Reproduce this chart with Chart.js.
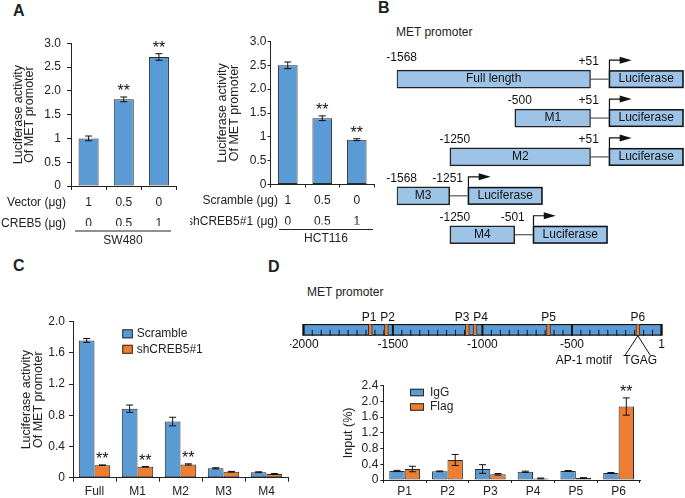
<!DOCTYPE html>
<html>
<head>
<meta charset="utf-8">
<script src="https://cdn.jsdelivr.net/npm/chart.js@4.4.1/dist/chart.umd.min.js"></script>
<style>
body{margin:0;background:#fff;font-family:"Liberation Sans",Arial,sans-serif;color:#222}
#page{position:relative;width:685px;height:498px;overflow:hidden}
canvas{position:absolute}
.lab{position:absolute;font-weight:bold;font-size:16px;line-height:16px}
.cap{position:absolute;font-size:12px;line-height:12px;white-space:nowrap}
</style>
</head>
<body>
<div id="page">
<div class="lab" style="left:13px;top:3px">A</div>
<div class="lab" style="left:378px;top:0px">B</div>
<div class="lab" style="left:13px;top:258px">C</div>
<div class="lab" style="left:268px;top:259px">D</div>
<div class="cap" style="left:396px;top:26px">MET promoter</div>
<div class="cap" style="left:307px;top:286px">MET promoter</div>
<canvas id="chartA1" width="190" height="220" style="left:0;top:30px"></canvas>
<canvas id="chartA2" width="195" height="220" style="left:190px;top:30px"></canvas>
<canvas id="chartB" width="305" height="216" style="left:380px;top:40px"></canvas>
<canvas id="chartC" width="295" height="243" style="left:0;top:255px"></canvas>
<canvas id="chartDmap" width="395" height="90" style="left:290px;top:280px"></canvas>
<canvas id="chartD" width="395" height="123" style="left:290px;top:375px"></canvas>
</div>
<script>
/* ---------------- data ---------------- */
// A left: SW480
var vectorUg = ['1', '0.5', '0'];
var creb5Ug = ['0', '0.5', '1'];
var sw480Values = [1.00, 1.82, 2.71];
var sw480Errors = [0.05, 0.05, 0.07];
var sw480Sig = ['', '**', '**'];
// A right: HCT116
var scrambleUg = ['1', '0.5', '0'];
var shCreb5Ug = ['0', '0.5', '1'];
var hct116Values = [2.50, 1.39, 0.94];
var hct116Errors = [0.07, 0.05, 0.02];
var hct116Sig = ['', '**', '**'];
var tickLabelsA = ['0', '0.5', '1', '1.5', '2.0', '2.5', '3.0'];

// B: promoter constructs (bp)
var constructNames = ['Full length', 'M1', 'M2', 'M3', 'M4'];
var constructStart = [-1568, -500, -1250, -1568, -1250];
var constructEnd = [51, 51, 51, -1251, -501];

// C: deletion constructs
var constructCats = ['Full', 'M1', 'M2', 'M3', 'M4'];
var scrambleValues = [1.76, 0.885, 0.72, 0.12, 0.07];
var scrambleErrors = [0.025, 0.047, 0.055, 0.008, 0.006];
var shCreb5Values = [0.16, 0.14, 0.17, 0.077, 0.048];
var shCreb5Errors = [0.004, 0.003, 0.008, 0.004, 0.006];
var shCreb5Sig = ['**', '**', '**', '', ''];
var tickLabelsC = ['0', '0.4', '0.8', '1.2', '1.6', '2.0'];

// D: promoter map + ChIP
var promoterRange = [-2000, 1];
var promoterTicks = [-2000, -1500, -1000, -500, 1];
var motifNames = ['P1', 'P2', 'P3', 'P4', 'P5', 'P6'];
var motifPos = [-1626, -1536, -1084, -1041, -631, -132];
var igGValues = [0.23, 0.22, 0.28, 0.21, 0.23, 0.18];
var igGErrors = [0.015, 0.01, 0.11, 0.015, 0.01, 0.01];
var flagValues = [0.28, 0.51, 0.145, 0.04, 0.05, 1.87];
var flagErrors = [0.07, 0.14, 0.02, 0.01, 0.01, 0.22];
var flagSig = ['', '', '', '', '', '**'];
var tickLabelsD = ['0', '0.4', '0.8', '1.2', '1.6', '2.0', '2.4'];

/* ---------------- setup ---------------- */
var FONT = 'Liberation Sans, Arial, sans-serif';
var BLUE = '#5B9BD5', ORANGE = '#ED7D31', LIGHT = '#9DC3E6', INK = '#222', EDGE = '#2a2a2a';
Chart.defaults.font.family = FONT;
Chart.defaults.font.size = 12;
Chart.defaults.color = INK;

// schematic (not to scale) axis used by panel B
class SchematicScale extends Chart.LinearScale {
	getPixelForValue(value) {
		var b = this.options.breaks, f = this.options.fractions, i = 0;
		while (i < b.length - 2 && value > b[i + 1]) i++;
		var t = (value - b[i]) / (b[i + 1] - b[i]);
		return this.getPixelForDecimal(f[i] + t * (f[i + 1] - f[i]));
	}
}
SchematicScale.id = 'schematic';
SchematicScale.defaults = Chart.LinearScale.defaults;
Chart.register(SchematicScale);

//error bars + significance stars
var errorBarPlugin = {
	id: 'errorBars',
	afterDatasetsDraw: function(chart) {
		var ctx = chart.ctx, ys = chart.scales.y;
		chart.data.datasets.forEach(function(ds, di) {
			if (!ds.errors) return;
			chart.getDatasetMeta(di).data.forEach(function(bar, i) {
				var v = ds.data[i], e = ds.errors[i];
				var top = ys.getPixelForValue(v + e), bot = ys.getPixelForValue(v - e);
				ctx.save();
				ctx.strokeStyle = '#111';
				ctx.lineWidth = 1;
				ctx.beginPath();
				ctx.moveTo(bar.x, top); ctx.lineTo(bar.x, bot);
				ctx.moveTo(bar.x - 3.5, top); ctx.lineTo(bar.x + 3.5, top);
				ctx.moveTo(bar.x - 3.5, bot); ctx.lineTo(bar.x + 3.5, bot);
				ctx.stroke();
				if (ds.sig && ds.sig[i]) {
					ctx.fillStyle = '#111';
					ctx.font = '16px ' + FONT;
					ctx.textAlign = 'center';
					ctx.textBaseline = 'alphabetic';
					ctx.fillText(ds.sig[i], bar.x, top - 1);
				}
				ctx.restore();
			});
		});
	}
};

function rowLabels(o) {
	return {
		id: 'rowLabels',
		afterDraw: function(chart) {
			var ctx = chart.ctx, xs = chart.scales.x;
			var y0 = xs.top + xs.options.grid.tickLength + xs.options.ticks.padding + 10.5;
			ctx.save();
			ctx.font = '12px ' + FONT;
			ctx.fillStyle = INK;
			ctx.textBaseline = 'middle';
			ctx.textAlign = 'right';
			o.rows.forEach(function(r, i) { ctx.fillText(r, o.right, y0 + i * 21); });
			ctx.strokeStyle = INK;
			ctx.lineWidth = 1;
			ctx.beginPath();
			ctx.moveTo(o.line[0], y0 + 28.5); ctx.lineTo(o.line[1], y0 + 28.5);
			ctx.stroke();
			ctx.textAlign = 'center';
			ctx.fillText(o.cell, (o.line[0] + o.line[1]) / 2, y0 + 38);
			ctx.restore();
		}
	};
}

function boxLegend(o) {
	return {
		id: 'boxLegend',
		afterDraw: function(chart) {
			var ctx = chart.ctx;
			ctx.save();
			ctx.font = '12px ' + FONT;
			ctx.textBaseline = 'middle';
			ctx.textAlign = 'left';
			chart.data.datasets.forEach(function(ds, i) {
				var cy = o.y + i * o.gap;
				ctx.fillStyle = ds.backgroundColor;
				ctx.fillRect(o.x, cy - o.h / 2, o.w, o.h);
				ctx.strokeStyle = EDGE;
				ctx.lineWidth = 1;
				ctx.strokeRect(o.x + 0.5, cy - o.h / 2 + 0.5, o.w - 1, o.h - 1);
				ctx.fillStyle = INK;
				ctx.fillText(ds.label, o.x + o.dx, cy);
			});
			ctx.restore();
		}
	};
}

function valueChart(id, c) {
	c.datasets.forEach(function(ds) {
		ds.borderColor = EDGE;
		ds.borderWidth = 1;
		ds.borderSkipped = false;
	});
	return new Chart(document.getElementById(id), {
		type: 'bar',
		data: { labels: c.labels, datasets: c.datasets },
		options: {
			responsive: false,
			animation: false,
			events: [],
			layout: { padding: c.padding },
			datasets: { bar: { categoryPercentage: c.catPct, barPercentage: c.barPct } },
			scales: {
				x: {
					grid: { display: true, drawOnChartArea: false, drawTicks: true, tickLength: c.tickLen, color: INK },
					border: { display: true, color: INK, width: 1 },
					ticks: { color: INK, font: { size: 12, lineHeight: c.xLineHeight }, padding: c.xTickPad, autoSkip: false, maxRotation: 0 },
					afterFit: function(s) { s.height = c.xHeight; }
				},
				y: {
					min: 0, max: c.yMax,
					ticks: { stepSize: c.yStep, color: INK, font: { size: 12 }, padding: c.yTickPad, autoSkip: false,
						callback: function(v, i) { return c.yTickLabels[i]; } },
					grid: { display: true, drawOnChartArea: false, drawTicks: true, tickLength: c.tickLen, color: INK },
					border: { display: true, color: INK, width: 1 },
					title: { display: true, text: c.yTitle, color: INK, font: { size: 12.5, lineHeight: c.titleLh }, padding: { top: c.titlePad, bottom: 0 } },
					afterFit: function(s) { s.width = c.yWidth; }
				}
			},
			plugins: { legend: { display: false }, tooltip: { enabled: false } }
		},
		plugins: [errorBarPlugin].concat(c.plugins || [])
	});
}

/* ---------------- panel A ---------------- */
valueChart('chartA1', {
	labels: vectorUg.map(function(v, i) { return [v, creb5Ug[i]]; }),
	datasets: [{ data: sw480Values, errors: sw480Errors, sig: sw480Sig, backgroundColor: BLUE }],
	padding: { left: 0, top: 12.3, right: 13.5, bottom: 24 },
	catPct: 1, barPct: 0.57, tickLen: 4,
	xLineHeight: '21px', xTickPad: 2, xHeight: 40,
	yMax: 3, yStep: 0.5, yTickLabels: tickLabelsA, yTickPad: 6, yWidth: 71,
	yTitle: ['Luciferase activity', 'Of MET promoter'], titleLh: '11.5px', titlePad: 12.5,
	plugins: [rowLabels({ rows: ['Vector (\u03bcg)', 'CREB5 (\u03bcg)'], right: 66, line: [75, 171], cell: 'SW480' })]
});

valueChart('chartA2', {
	labels: scrambleUg.map(function(v, i) { return [v, shCreb5Ug[i]]; }),
	datasets: [{ data: hct116Values, errors: hct116Errors, sig: hct116Sig, backgroundColor: BLUE }],
	padding: { left: 0, top: 11.5, right: 11, bottom: 25.5 },
	catPct: 1, barPct: 0.57, tickLen: 3,
	xLineHeight: '21px', xTickPad: 3, xHeight: 40,
	yMax: 3, yStep: 0.5, yTickLabels: tickLabelsA, yTickPad: 1, yWidth: 80.5,
	yTitle: ['Luciferase activity', 'Of MET promoter'], titleLh: '11.5px', titlePad: 27,
	plugins: [rowLabels({ rows: ['Scramble (\u03bcg)', 'shCREB5#1 (\u03bcg)'], right: 88, line: [89, 183], cell: 'HCT116' })]
});

/* ---------------- panel B ---------------- */
function fmtBp(v) { return v > 0 ? '+' + v : String(v); }

var constructPlugin = {
	id: 'constructs',
	afterDatasetsDraw: function(chart) {
		var ctx = chart.ctx, xs = chart.scales.x;
		ctx.save();
		ctx.font = '12px ' + FONT;
		ctx.textBaseline = 'middle';
		ctx.textAlign = 'center';
		chart.getDatasetMeta(0).data.forEach(function(bar, i) {
			var x0 = xs.getPixelForValue(constructStart[i]);
			var x1 = xs.getPixelForValue(constructEnd[i]);
			var h = bar.height, top = bar.y - h / 2, lx = x1 + 18, lw = 75;
			ctx.fillStyle = '#111';
			ctx.fillText(constructNames[i], (x0 + x1) / 2, bar.y);
			ctx.fillText(fmtBp(constructStart[i]), x0 + 5, top - (i === 0 ? 12 : 8));
			ctx.fillText(fmtBp(constructEnd[i]), x1 - 2, top - 8);
			// link to reporter
			ctx.strokeStyle = '#333';
			ctx.lineWidth = 1;
			ctx.beginPath(); ctx.moveTo(x1, bar.y); ctx.lineTo(lx, bar.y); ctx.stroke();
			// luciferase box
			ctx.fillStyle = LIGHT;
			ctx.fillRect(lx, top, lw, h);
			ctx.strokeStyle = '#111';
			ctx.lineWidth = 1.5;
			ctx.strokeRect(lx + 0.75, top + 0.75, lw - 1.5, h - 1.5);
			ctx.fillStyle = '#111';
			ctx.fillText('Luciferase', lx + lw / 2, bar.y);
			// transcription start arrow
			ctx.lineWidth = 1.2;
			ctx.beginPath(); ctx.moveTo(lx + 0.75, top); ctx.lineTo(lx + 0.75, top - 10); ctx.lineTo(lx + 12, top - 10); ctx.stroke();
			ctx.beginPath(); ctx.moveTo(lx + 11, top - 13.5); ctx.lineTo(lx + 23, top - 10); ctx.lineTo(lx + 11, top - 6.5); ctx.closePath(); ctx.fill();
		});
		ctx.restore();
	}
};

new Chart(document.getElementById('chartB'), {
	type: 'bar',
	data: {
		labels: constructNames,
		datasets: [{
			data: constructStart.map(function(s, i) { return [s, constructEnd[i]]; }),
			backgroundColor: LIGHT, borderColor: '#222', borderWidth: 1.5, borderSkipped: false, barThickness: 18
		}]
	},
	options: {
		indexAxis: 'y', responsive: false, animation: false, events: [],
		layout: { padding: { left: 16.7, right: 94.3, top: 19.7, bottom: 1.8 } },
		scales: {
			x: { type: 'schematic', min: -1568, max: 51, display: false, breaks: [-1568, -1250, -500, 51], fractions: [0, 0.274, 0.609, 1] },
			y: { display: false }
		},
		plugins: { legend: { display: false }, tooltip: { enabled: false } }
	},
	plugins: [constructPlugin]
});

/* ---------------- panel C ---------------- */
valueChart('chartC', {
	labels: constructCats,
	datasets: [
		{ label: 'Scramble', data: scrambleValues, errors: scrambleErrors, backgroundColor: BLUE },
		{ label: 'shCREB5#1', data: shCreb5Values, errors: shCreb5Errors, sig: shCreb5Sig, backgroundColor: ORANGE }
	],
	padding: { left: 0, top: 66.7, right: 7, bottom: 0 },
	catPct: 0.73, barPct: 1, tickLen: 4,
	xLineHeight: 1.2, xTickPad: 2.8, xHeight: 20.3,
	yMax: 2.0, yStep: 0.4, yTickLabels: tickLabelsC, yTickPad: 4, yWidth: 73,
	yTitle: ['Luciferase activity', 'Of MET promoter'], titleLh: '11.5px', titlePad: 21,
	plugins: [boxLegend({ x: 122.3, y: 78.8, w: 10.5, h: 9, gap: 15.5, dx: 14.4 })]
});

/* ---------------- panel D ---------------- */
var promoterPlugin = {
	id: 'promoterMap',
	beforeDatasetDraw: function(chart, args) {
		if (args.index !== 0) return; // promoter bar drawn, markers next
		var ctx = chart.ctx, xs = chart.scales.x, a = chart.chartArea;
		ctx.save();
		ctx.strokeStyle = '#111';
		for (var v = promoterRange[0]; v <= 0; v += 50) {
			var px = xs.getPixelForValue(v === 0 ? promoterRange[1] : v);
			var major = v % 500 === 0;
			ctx.lineWidth = major ? 2 : 1;
			ctx.beginPath();
			ctx.moveTo(px, a.bottom);
			ctx.lineTo(px, major ? a.top : a.bottom - (a.bottom - a.top) * 0.5);
			ctx.stroke();
		}
		ctx.restore();
	},
	afterDatasetsDraw: function(chart) {
		var ctx = chart.ctx, xs = chart.scales.x, a = chart.chartArea;
		ctx.save();
		ctx.font = '12px ' + FONT;
		ctx.fillStyle = '#111';
		ctx.textBaseline = 'middle';
		ctx.textAlign = 'center';
		promoterTicks.forEach(function(t) { ctx.fillText(String(t), xs.getPixelForValue(t), a.bottom + 8.5); });
		// motif labels, pushed apart where they would collide
		var cx = motifPos.map(function(p) { return xs.getPixelForValue(p); });
		var lx = cx.slice(), minGap = 18.5;
		for (var i = 1; i < lx.length; i++) {
			var d = lx[i] - lx[i - 1];
			if (d < minGap) { lx[i - 1] -= (minGap - d) / 2; lx[i] += (minGap - d) / 2; }
		}
		motifNames.forEach(function(n, i) { ctx.fillText(n, lx[i], a.top - 6.7); });
		var p6 = cx[cx.length - 1];
		ctx.strokeStyle = '#111';
		ctx.lineWidth = 1;
		ctx.beginPath();
		ctx.moveTo(p6 - 12.7, a.bottom + 19.5); ctx.lineTo(p6, a.bottom); ctx.lineTo(p6 + 12.3, a.bottom + 19.5);
		ctx.stroke();
		ctx.fillText('TGAG', p6 + 2.3, a.bottom + 25.3);
		ctx.textAlign = 'right';
		ctx.fillText('AP-1 motif', p6 - 26, a.bottom + 25.3);
		ctx.restore();
	}
};

new Chart(document.getElementById('chartDmap'), {
	type: 'bar',
	data: {
		labels: ['MET'],
		datasets: [
			{ data: motifPos.map(function(p) { return { x: [p - 11, p + 11], y: 'MET' }; }),
				backgroundColor: ORANGE, borderColor: '#333', borderWidth: 1, borderSkipped: false, grouped: false, barThickness: 11.7 },
			{ data: [{ x: promoterRange, y: 'MET' }],
				backgroundColor: BLUE, borderColor: '#111', borderWidth: 1.5, borderSkipped: false, grouped: false, barThickness: 11.7 }
		]
	},
	options: {
		indexAxis: 'y', responsive: false, animation: false, events: [],
		layout: { padding: { left: 13.3, right: 23.3, top: 44, bottom: 34.3 } },
		scales: {
			x: { type: 'linear', min: promoterRange[0], max: promoterRange[1], display: false },
			y: { display: false }
		},
		plugins: { legend: { display: false }, tooltip: { enabled: false } }
	},
	plugins: [promoterPlugin]
});

valueChart('chartD', {
	labels: motifNames,
	datasets: [
		{ label: 'IgG', data: igGValues, errors: igGErrors, backgroundColor: BLUE },
		{ label: 'Flag', data: flagValues, errors: flagErrors, sig: flagSig, backgroundColor: ORANGE }
	],
	padding: { left: 0, top: 10.7, right: 45, bottom: 0 },
	catPct: 0.72, barPct: 1, tickLen: 3,
	xLineHeight: 1.2, xTickPad: 1.5, xHeight: 18,
	yMax: 2.4, yStep: 0.4, yTickLabels: tickLabelsD, yTickPad: 2, yWidth: 93.3,
	yTitle: 'Input (%)', titleLh: '12px', titlePad: 53,
	plugins: [boxLegend({ x: 120, y: 17.5, w: 14, h: 7.5, gap: 14.5, dx: 20 })]
});
</script>
</body>
</html>
